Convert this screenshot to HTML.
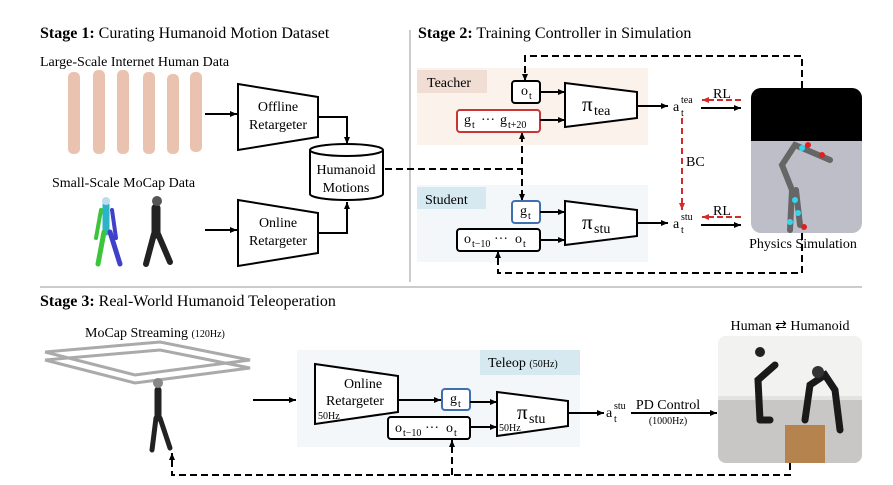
<!DOCTYPE html>
<html><head><meta charset="utf-8"><style>
html,body{margin:0;padding:0;background:#fff;}
svg{display:block;font-family:"Liberation Serif",serif;}
</style></head><body>
<svg width="893" height="485" viewBox="0 0 893 485" xmlns="http://www.w3.org/2000/svg">
<defs>
<marker id="ah" markerWidth="8" markerHeight="8" refX="7" refY="4" orient="auto" markerUnits="userSpaceOnUse"><path d="M0,1 L7,4 L0,7 z" fill="#000"/></marker>
<marker id="ar" markerWidth="8" markerHeight="8" refX="7" refY="4" orient="auto" markerUnits="userSpaceOnUse"><path d="M0,1 L7,4 L0,7 z" fill="#d42a2a"/></marker>
</defs>
<line x1="410" y1="30" x2="410" y2="282" stroke="#bbb" stroke-width="1.5"/>
<line x1="40" y1="287" x2="862" y2="287" stroke="#bbb" stroke-width="1.5"/>
<text x="40" y="38" font-size="16"><tspan font-weight="bold">Stage 1:</tspan> Curating Humanoid Motion Dataset</text>
<text x="418" y="38" font-size="16"><tspan font-weight="bold">Stage 2:</tspan> Training Controller in Simulation</text>
<text x="40" y="306" font-size="16"><tspan font-weight="bold">Stage 3:</tspan> Real-World Humanoid Teleoperation</text>

<!-- Stage 1 -->
<text x="40" y="66" font-size="14">Large-Scale Internet Human Data</text>
<g fill="#e7b9a3" opacity="0.85">
<rect x="68" y="72" width="12" height="82" rx="5"/><rect x="93" y="70" width="12" height="84" rx="5"/><rect x="117" y="70" width="12" height="84" rx="5"/><rect x="143" y="72" width="12" height="82" rx="5"/><rect x="167" y="74" width="12" height="80" rx="5"/><rect x="190" y="72" width="12" height="80" rx="5"/>
</g>
<text x="52" y="187" font-size="14">Small-Scale MoCap Data</text>
<g stroke-linecap="round">
<line x1="106" y1="205" x2="106" y2="232" stroke="#2ab3c9" stroke-width="7"/>
<line x1="104" y1="232" x2="98" y2="264" stroke="#3cc43c" stroke-width="5"/>
<line x1="110" y1="232" x2="120" y2="264" stroke="#4040c8" stroke-width="5"/>
<line x1="101" y1="210" x2="96" y2="238" stroke="#3cc43c" stroke-width="4"/>
<line x1="112" y1="210" x2="116" y2="238" stroke="#4040c8" stroke-width="4"/>
<circle cx="106" cy="201" r="4" fill="#bde"/>
<line x1="156" y1="208" x2="156" y2="234" stroke="#222" stroke-width="9"/>
<line x1="154" y1="234" x2="146" y2="264" stroke="#222" stroke-width="6"/>
<line x1="158" y1="234" x2="170" y2="262" stroke="#222" stroke-width="6"/>
<circle cx="157" cy="201" r="5" fill="#555"/>
</g>
<line x1="205" y1="114" x2="237" y2="114" stroke="#000" stroke-width="2" marker-end="url(#ah)"/>
<line x1="205" y1="230" x2="237" y2="230" stroke="#000" stroke-width="2" marker-end="url(#ah)"/>
<polygon points="238,84 318,97 318,137 238,150" fill="#fff" stroke="#000" stroke-width="2"/>
<text x="278" y="111" font-size="14" text-anchor="middle">Offline</text>
<text x="278" y="129" font-size="14" text-anchor="middle">Retargeter</text>
<polygon points="238,200 318,213 318,253 238,266" fill="#fff" stroke="#000" stroke-width="2"/>
<text x="278" y="227" font-size="14" text-anchor="middle">Online</text>
<text x="278" y="245" font-size="14" text-anchor="middle">Retargeter</text>
<polyline points="318,117 347,117 347,144" fill="none" stroke="#000" stroke-width="2" marker-end="url(#ah)"/>
<polyline points="318,233 347,233 347,202" fill="none" stroke="#000" stroke-width="2" marker-end="url(#ah)"/>
<path d="M310,150 L310,194 A36.5,6 0 0 0 383,194 L383,150" fill="#fff" stroke="#000" stroke-width="2"/>
<ellipse cx="346.5" cy="150" rx="36.5" ry="6" fill="#fff" stroke="#000" stroke-width="2"/>
<text x="346" y="174" font-size="14" text-anchor="middle">Humanoid</text>
<text x="346" y="192" font-size="14" text-anchor="middle">Motions</text>

<!-- Stage 2 -->
<rect x="417" y="68" width="231" height="77" fill="#fbf2ec"/>
<rect x="417" y="70" width="70" height="23" fill="#f0ddd3"/>
<text x="427" y="87" font-size="14">Teacher</text>
<rect x="417" y="185" width="231" height="77" fill="#f3f7fa"/>
<rect x="417" y="187" width="69" height="22" fill="#d6e9f1"/>
<text x="425" y="204" font-size="14">Student</text>
<g fill="none" stroke="#000" stroke-width="2" stroke-dasharray="7,4">
<polyline points="802,88 802,56 525,56 525,79"/>
<polyline points="802,233 802,273 498,273 498,254"/>
<polyline points="385,169 522,169"/>
<line x1="522" y1="135" x2="522" y2="198"/>
</g>
<line x1="525" y1="74" x2="525" y2="81" stroke="#000" stroke-width="2" marker-end="url(#ah)"/>
<line x1="498" y1="258" x2="498" y2="251" stroke="#000" stroke-width="2" marker-end="url(#ah)"/>
<line x1="522" y1="139" x2="522" y2="132" stroke="#000" stroke-width="2" marker-end="url(#ah)"/>
<line x1="522" y1="194" x2="522" y2="201" stroke="#000" stroke-width="2" marker-end="url(#ah)"/>
<rect x="512" y="81" width="28" height="22" rx="3" fill="#fff" stroke="#000" stroke-width="2"/>
<text x="521" y="95" font-size="14">o</text><text x="529" y="99" font-size="10">t</text>
<rect x="457" y="110" width="83" height="22" rx="3" fill="#fff" stroke="#c93434" stroke-width="2"/>
<text x="464" y="124" font-size="14">g</text><text x="472" y="128" font-size="10">t</text>
<text x="481" y="124" font-size="14">···</text>
<text x="500" y="124" font-size="14">g</text><text x="508" y="128" font-size="10">t+20</text>
<line x1="540" y1="92" x2="565" y2="92" stroke="#000" stroke-width="2" marker-end="url(#ah)"/>
<line x1="540" y1="120" x2="565" y2="120" stroke="#000" stroke-width="2" marker-end="url(#ah)"/>
<polygon points="565,83 637,92 637,118 565,127" fill="#fff" stroke="#000" stroke-width="2"/>
<text x="582" y="111" font-size="21">π</text><text x="594" y="115" font-size="14">tea</text>
<line x1="637" y1="106" x2="668" y2="106" stroke="#000" stroke-width="2" marker-end="url(#ah)"/>
<text x="673" y="111" font-size="14">a</text><text x="681" y="103" font-size="10">tea</text><text x="681" y="116" font-size="10">t</text>
<rect x="512" y="201" width="28" height="22" rx="3" fill="#fff" stroke="#3f6fb0" stroke-width="2"/>
<text x="520" y="215" font-size="14">g</text><text x="528" y="219" font-size="10">t</text>
<rect x="457" y="229" width="83" height="22" rx="3" fill="#fff" stroke="#000" stroke-width="2"/>
<text x="464" y="243" font-size="14">o</text><text x="472" y="247" font-size="10">t−10</text>
<text x="494" y="243" font-size="14">···</text>
<text x="515" y="243" font-size="14">o</text><text x="523" y="247" font-size="10">t</text>
<line x1="540" y1="212" x2="565" y2="212" stroke="#000" stroke-width="2" marker-end="url(#ah)"/>
<line x1="540" y1="240" x2="565" y2="240" stroke="#000" stroke-width="2" marker-end="url(#ah)"/>
<polygon points="565,201 637,210 637,236 565,245" fill="#fff" stroke="#000" stroke-width="2"/>
<text x="582" y="229" font-size="21">π</text><text x="594" y="233" font-size="14">stu</text>
<line x1="637" y1="223" x2="668" y2="223" stroke="#000" stroke-width="2" marker-end="url(#ah)"/>
<text x="673" y="228" font-size="14">a</text><text x="681" y="220" font-size="10">stu</text><text x="681" y="233" font-size="10">t</text>
<line x1="682" y1="118" x2="682" y2="210" stroke="#d42a2a" stroke-width="2" stroke-dasharray="6,4" marker-end="url(#ar)"/>
<text x="686" y="166" font-size="14">BC</text>
<text x="713" y="98" font-size="14">RL</text>
<line x1="741" y1="100" x2="702" y2="100" stroke="#d42a2a" stroke-width="2" stroke-dasharray="6,3" marker-end="url(#ar)"/>
<line x1="701" y1="108" x2="741" y2="108" stroke="#000" stroke-width="2" marker-end="url(#ah)"/>
<text x="713" y="215" font-size="14">RL</text>
<line x1="741" y1="217" x2="702" y2="217" stroke="#d42a2a" stroke-width="2" stroke-dasharray="6,3" marker-end="url(#ar)"/>
<line x1="701" y1="225" x2="741" y2="225" stroke="#000" stroke-width="2" marker-end="url(#ah)"/>
<clipPath id="sc"><rect x="751" y="88" width="111" height="145" rx="10"/></clipPath>
<g clip-path="url(#sc)">
<rect x="751" y="88" width="111" height="145" fill="#bdbec8"/>
<rect x="751" y="88" width="111" height="53" fill="#000"/>
<g stroke="#666" stroke-width="6" stroke-linecap="round" fill="none">
<polyline points="790,230 792,190 782,165 795,145 830,160"/>
<polyline points="800,225 796,190"/>
</g>
<g fill="#33d6ee"><circle cx="802" cy="148" r="3"/><circle cx="795" cy="200" r="3"/><circle cx="798" cy="213" r="3"/><circle cx="790" cy="222" r="3"/></g>
<g fill="#e02020"><circle cx="808" cy="145" r="3"/><circle cx="822" cy="155" r="3"/><circle cx="804" cy="227" r="3"/></g>
</g>
<text x="803" y="248" font-size="14" text-anchor="middle">Physics Simulation</text>

<!-- Stage 3 -->
<text x="85" y="337" font-size="14">MoCap Streaming <tspan font-size="10">(120Hz)</tspan></text>
<g stroke="#aaa" stroke-width="3" fill="none">
<polyline points="45,352 160,342 250,360 135,375 45,352"/>
<polyline points="45,360 160,350 250,368 135,383 45,360"/>
</g>
<g stroke-linecap="round">
<line x1="158" y1="390" x2="158" y2="418" stroke="#222" stroke-width="7"/>
<line x1="156" y1="418" x2="152" y2="450" stroke="#222" stroke-width="5"/>
<line x1="160" y1="418" x2="170" y2="448" stroke="#222" stroke-width="5"/>
<circle cx="158" cy="383" r="5" fill="#888"/>
</g>
<line x1="253" y1="400" x2="296" y2="400" stroke="#000" stroke-width="2" marker-end="url(#ah)"/>
<rect x="297" y="350" width="283" height="97" fill="#f3f7fa"/>
<rect x="480" y="350" width="100" height="25" fill="#d6e9f1"/>
<text x="488" y="367" font-size="14">Teleop <tspan font-size="10">(50Hz)</tspan></text>
<polygon points="315,364 398,376 398,412 315,424" fill="#fff" stroke="#000" stroke-width="2"/>
<text x="363" y="388" font-size="14" text-anchor="middle">Online</text>
<text x="355" y="405" font-size="14" text-anchor="middle">Retargeter</text>
<text x="318" y="419" font-size="10">50Hz</text>
<line x1="398" y1="400" x2="441" y2="400" stroke="#000" stroke-width="2" marker-end="url(#ah)"/>
<rect x="442" y="389" width="28" height="21" rx="3" fill="#fff" stroke="#3f6fb0" stroke-width="2"/>
<text x="450" y="403" font-size="14">g</text><text x="458" y="407" font-size="10">t</text>
<rect x="388" y="417" width="82" height="22" rx="3" fill="#fff" stroke="#000" stroke-width="2"/>
<text x="395" y="432" font-size="14">o</text><text x="403" y="436" font-size="10">t−10</text>
<text x="425" y="432" font-size="14">···</text>
<text x="446" y="432" font-size="14">o</text><text x="454" y="436" font-size="10">t</text>
<line x1="470" y1="402" x2="497" y2="402" stroke="#000" stroke-width="2" marker-end="url(#ah)"/>
<line x1="470" y1="427" x2="497" y2="427" stroke="#000" stroke-width="2" marker-end="url(#ah)"/>
<polygon points="497,392 568,401 568,426 497,436" fill="#fff" stroke="#000" stroke-width="2"/>
<text x="517" y="419" font-size="21">π</text><text x="529" y="423" font-size="14">stu</text>
<text x="499" y="431" font-size="10">50Hz</text>
<line x1="568" y1="413" x2="604" y2="413" stroke="#000" stroke-width="2" marker-end="url(#ah)"/>
<text x="606" y="417" font-size="14">a</text><text x="614" y="409" font-size="10">stu</text><text x="614" y="422" font-size="10">t</text>
<text x="668" y="409" font-size="14" text-anchor="middle">PD Control</text>
<text x="668" y="424" font-size="10" text-anchor="middle">(1000Hz)</text>
<line x1="631" y1="413" x2="717" y2="413" stroke="#000" stroke-width="2" marker-end="url(#ah)"/>
<text x="790" y="330" font-size="14" text-anchor="middle">Human ⇄ Humanoid</text>
<clipPath id="pc"><rect x="718" y="336" width="144" height="127" rx="8"/></clipPath>
<g clip-path="url(#pc)">
<rect x="718" y="336" width="144" height="127" fill="#e4e3e1"/>
<rect x="718" y="336" width="144" height="60" fill="#f2f2f0"/>
<rect x="718" y="400" width="144" height="63" fill="#c9c7c5"/>
<rect x="785" y="425" width="40" height="38" fill="#b5834e"/>
<g stroke="#1a1a1a" stroke-width="7" stroke-linecap="round" fill="none">
<polyline points="760,420 758,380 775,365"/>
<polyline points="760,420 770,420"/>
<polyline points="805,420 810,385 825,375 835,390 840,430"/>
</g>
<circle cx="760" cy="352" r="5" fill="#222"/>
<circle cx="818" cy="372" r="6" fill="#333"/>
</g>
<g fill="none" stroke="#000" stroke-width="2" stroke-dasharray="7,4">
<polyline points="790,463 790,475 172,475 172,460"/>
<line x1="452" y1="475" x2="452" y2="446"/>
</g>
<line x1="172" y1="460" x2="172" y2="453" stroke="#000" stroke-width="2" marker-end="url(#ah)"/>
<line x1="452" y1="446" x2="452" y2="440" stroke="#000" stroke-width="2" marker-end="url(#ah)"/>
</svg>
</body></html>
